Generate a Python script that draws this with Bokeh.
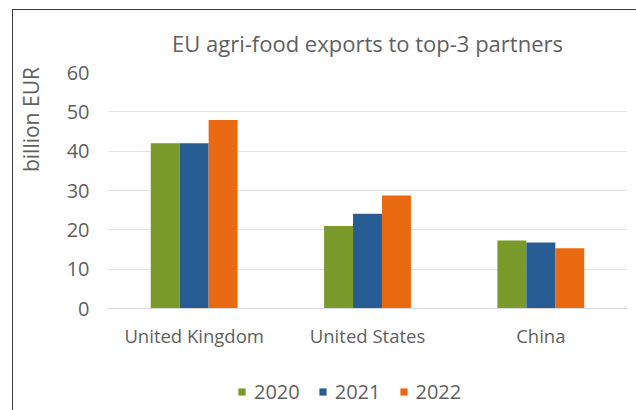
from bokeh.plotting import figure
from bokeh.layouts import column
from bokeh.models import ColumnDataSource, FactorRange, Legend, LegendItem, FixedTicker, Range1d
from bokeh.transform import dodge
from bokeh.embed import file_html
from bokeh.resources import INLINE

partners = ["United Kingdom", "United States", "China"]
years = ["2020", "2021", "2022"]
v2020 = [42.0, 21.0, 17.3]
v2021 = [42.0, 24.1, 16.8]
v2022 = [47.9, 28.7, 15.3]
colors = ["#7a9a2b", "#285d94", "#e8690f"]
yticks = [0, 10, 20, 30, 40, 50, 60]

FONT = "Open Sans"
TXT = "#5f5f5f"

src = ColumnDataSource(dict(partner=partners, y2020=v2020, y2021=v2021, y2022=v2022))
xr = FactorRange(*partners, range_padding=0)

p = figure(x_range=xr, y_range=(0, 60),
           frame_width=520, frame_height=236, output_backend="svg", toolbar_location=None,
           min_border_left=94, min_border_right=5, min_border_top=40, min_border_bottom=50)

p.title.text = "EU agri-food exports to top-3 partners"
p.title.align = "center"
p.title.text_font = FONT
p.title.text_font_style = "normal"
p.title.text_font_size = "22px"
p.title.text_color = TXT
p.title.standoff = 30

offsets = [-0.167, 0.0, 0.167]
for yr, off, col in zip(years, offsets, colors):
    p.vbar(x=dodge("partner", off, range=xr), top="y" + yr, width=0.167,
           source=src, fill_color=col, line_color=None)

p.outline_line_color = None
p.background_fill_color = "white"
p.border_fill_color = "white"

p.xgrid.grid_line_color = None
p.ygrid.grid_line_color = "#e3e3e3"
p.ygrid.grid_line_width = 1

p.yaxis.ticker = FixedTicker(ticks=yticks)
p.yaxis.axis_line_color = None
p.yaxis.major_tick_line_color = None
p.yaxis.minor_tick_line_color = None
p.yaxis.major_label_text_font = FONT
p.yaxis.major_label_text_font_size = "20px"
p.yaxis.major_label_text_color = TXT
p.yaxis.major_label_standoff = 12
p.yaxis.axis_label = "\u00a0" * 26 + "billion EUR"
p.yaxis.axis_label_text_font = FONT
p.yaxis.axis_label_text_font_size = "21px"
p.yaxis.axis_label_text_font_style = "normal"
p.yaxis.axis_label_text_color = TXT
p.yaxis.axis_label_standoff = 19

p.xaxis.axis_line_color = "#d9d9d9"
p.xaxis.major_tick_line_color = None
p.xaxis.minor_tick_line_color = None
p.xaxis.major_label_text_font = FONT
p.xaxis.major_label_text_font_size = "18.5px"
p.xaxis.major_label_text_color = TXT
p.xaxis.major_label_standoff = 8

# legend strip below the chart (its bars fall outside its view; only the swatches show)
pl = figure(x_range=xr, y_range=Range1d(1000, 1001), width=619, height=52,
            output_backend="svg", toolbar_location=None,
            x_axis_location=None, y_axis_location=None, min_border=0)
pl.outline_line_color = None
pl.grid.visible = False
pl.background_fill_color = "white"
pl.border_fill_color = "white"
items = []
for yr, off, col in zip(years, offsets, colors):
    r = pl.vbar(x=dodge("partner", off, range=xr), top="y" + yr, width=0.167,
                source=src, fill_color=col, line_color=None)
    items.append(LegendItem(label=yr, renderers=[r]))
legend = Legend(items=items, orientation="horizontal", location=(130, 5))
legend.label_text_font = FONT
legend.label_text_font_size = "20px"
legend.label_text_color = TXT
legend.glyph_width = 9
legend.glyph_height = 9
legend.label_standoff = 8
legend.spacing = 18
legend.padding = 0
legend.margin = 0
legend.border_line_color = None
legend.background_fill_alpha = 0
pl.add_layout(legend)

layout = column(p, pl, spacing=0,
                styles={"margin-left": "12px", "margin-top": "9px", "padding-right": "4px",
                        "border-left": "1px solid #3c3c3c", "border-top": "1px solid #3c3c3c"})

open("out.html", "w").write(file_html(layout, INLINE))
